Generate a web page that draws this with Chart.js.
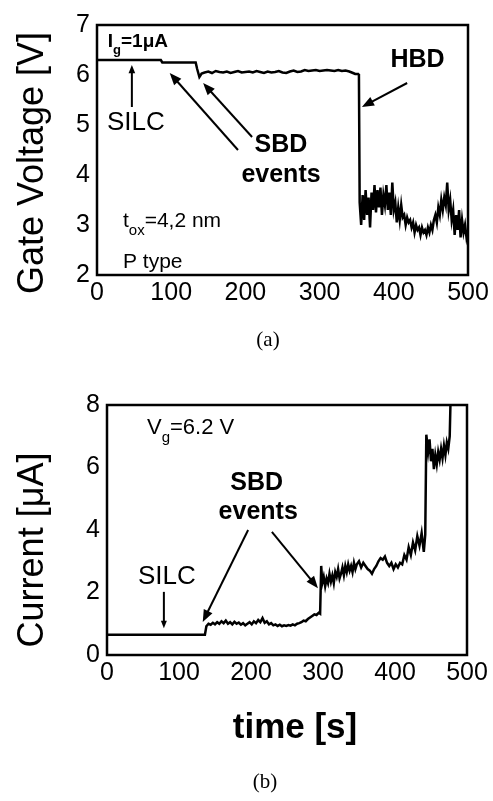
<!DOCTYPE html>
<html>
<head>
<meta charset="utf-8">
<script src="https://cdn.jsdelivr.net/npm/chart.js@4.4.0/dist/chart.umd.min.js"></script>
<style>
  html, body { margin: 0; padding: 0; background: #fff; }
  body { width: 493px; height: 801px; position: relative; overflow: hidden; }
  .box { position: absolute; left: 0; width: 493px; }
  #boxA { top: 0; height: 330px; }
  #boxB { top: 380px; height: 400px; }
  .cap { position: absolute; width: 60px; text-align: center; font-family: "Liberation Serif", serif; font-size: 21px; color: #000; }
</style>
</head>
<body>
<div class="box" id="boxA"><canvas id="gateVoltage"></canvas></div>
<div class="box" id="boxB"><canvas id="stressCurrent"></canvas></div>
<div class="cap" style="left:238px; top:327px">(a)</div>
<div class="cap" style="left:235px; top:769px">(b)</div>
<script>
// (a) constant current stress, Ig = 1 uA
const timeA = [0, 86, 88, 133, 135, 138, 141, 145, 150, 155, 160, 165, 170, 175, 180, 185, 190, 195, 200,
  205, 210, 215, 220, 225, 230, 235, 240, 245, 250, 255, 260, 265, 270, 275, 280, 285, 290, 295, 300,
  305, 310, 315, 320, 325, 330, 335, 340, 345, 348, 352, 353,
  354, 356, 358, 360, 362, 364, 366, 368, 370, 372, 374, 376, 378, 380, 382, 384, 386, 388, 390, 392,
  394, 396, 398, 400, 402, 404, 406, 408, 410, 412, 414, 416, 418, 420, 422, 424, 426, 428, 430, 432,
  434, 436, 438, 440, 442, 444, 446, 448, 450, 452, 454, 456, 458, 460, 462, 464, 466, 468, 470, 472,
  474, 476, 478, 480, 482, 484, 486, 488, 490, 492, 494, 496, 498, 500];
const gateV = [6.30, 6.30, 6.25, 6.25, 6.12, 5.96, 6.03, 6.05, 6.07, 6.04, 6.08, 6.06, 6.05, 6.07, 6.04, 6.06, 6.08, 6.05, 6.06,
  6.07, 6.05, 6.08, 6.06, 6.04, 6.07, 6.05, 6.06, 6.08, 6.05, 6.04, 6.07, 6.09, 6.06, 6.07, 6.10, 6.08, 6.09, 6.10, 6.08,
  6.09, 6.10, 6.09, 6.08, 6.10, 6.08, 6.09, 6.07, 6.04, 6.02, 6.02, 6.00,
  3.45, 3.00, 3.60, 3.10, 3.70, 3.20, 3.55, 2.95, 3.65, 3.30, 3.80, 3.25, 3.70, 3.35, 3.75, 3.20, 3.60, 3.40, 3.80, 3.30,
  3.65, 3.20, 3.85, 3.30, 3.45, 3.05, 3.35, 3.10, 3.40, 3.15, 3.20, 3.00, 3.15, 3.05, 3.10, 2.95, 3.05, 2.85, 3.00, 2.90,
  2.95, 2.80, 2.95, 2.85, 2.90, 2.80, 2.95, 2.85, 3.00, 2.90, 3.10, 3.20, 3.05, 3.35, 3.20, 3.50, 3.30, 3.55, 3.40, 3.85,
  3.30, 3.50, 3.10, 3.30, 2.80, 3.20, 2.90, 3.30, 2.75, 3.10, 2.85, 3.00, 2.75, 2.90];

// (b) constant voltage stress, Vg = 6.2 V
const timeB = [0, 136, 138, 141, 144, 147, 150, 153, 156, 159, 162, 165, 168, 171, 174, 177, 180, 183, 186, 189,
  192, 195, 198, 201, 204, 207, 210, 213, 216, 219, 222, 225, 228, 231, 234, 237, 240, 243, 246, 249,
  252, 255, 258, 261, 264, 267, 270, 273, 276, 279, 282, 285, 288, 291, 294, 296, 297.5, 299,
  301, 303, 305, 307, 309, 311, 313, 315, 317, 319, 321, 323, 325, 327, 329, 331, 333, 335, 337, 339,
  341, 343, 345, 347, 350, 353, 356, 359, 362, 365, 368, 371, 374, 377, 380, 383, 386, 389, 392, 395,
  398, 401, 404, 407, 410, 413, 416, 419, 422, 425, 428, 431, 434, 437, 440, 442, 443.5,
  446, 448, 450, 452, 454, 456, 458, 460, 462, 464, 466, 468, 470, 472, 474, 476, 477];
const currentB = [0.65, 0.65, 0.92, 1.00, 0.97, 1.03, 0.98, 1.05, 1.00, 1.08, 1.02, 1.10, 1.00, 1.05, 0.98, 1.06, 1.00, 1.04, 0.97, 1.02,
  0.95, 1.00, 1.05, 0.98, 1.08, 1.02, 1.12, 1.05, 1.18, 1.03, 1.08, 0.98, 1.02, 0.95, 0.98, 0.93, 0.97, 0.92, 0.95, 0.93,
  0.96, 0.94, 0.98, 0.95, 1.00, 1.02, 1.05, 1.10, 1.08, 1.15, 1.20, 1.25, 1.30, 1.28, 1.35, 1.32, 2.85, 2.30,
  2.50, 2.20, 2.45, 2.30, 2.60, 2.35, 2.55, 2.30, 2.65, 2.50, 2.75, 2.45, 2.60, 2.80, 2.55, 2.85, 2.65, 2.90, 2.70, 2.85,
  2.65, 2.95, 2.75, 2.90, 3.00, 2.80, 2.95, 2.85, 2.75, 2.70, 2.60, 2.75, 2.85, 3.00, 3.10, 3.05, 3.15, 2.95, 2.85, 2.95,
  2.75, 2.90, 2.80, 2.95, 2.90, 3.20, 3.05, 3.45, 3.20, 3.60, 3.35, 3.80, 3.50, 3.90, 3.30, 3.85, 7.05,
  6.50, 6.90, 6.20, 6.60, 5.95, 6.40, 6.10, 6.50, 6.25, 6.60, 6.30, 6.70, 6.40, 6.80, 6.60, 7.00, 8.00];

const ticksA = [2, 3, 4, 5, 6, 7];
const ticksB = [0, 2, 4, 6, 8];
const ticksT = [0, 100, 200, 300, 400, 500];

const SANS = '"Liberation Sans", Arial, sans-serif';

// text with subscripts, parts = [[text, isSub], ...]
function drawRich(ctx, parts, px, py, size, weight) {
  let cx = px;
  parts.forEach(([t, sub]) => {
    const fs = sub ? Math.round(size * 0.7) : size;
    ctx.font = `${weight} ${fs}px ${SANS}`;
    ctx.fillText(t, cx, sub ? py + size * 0.45 : py);
    cx += ctx.measureText(t).width;
  });
}

function arrow(ctx, x0, y0, x1, y1, head) {
  const ang = Math.atan2(y1 - y0, x1 - x0);
  ctx.beginPath();
  ctx.moveTo(x0, y0);
  ctx.lineTo(x1 - Math.cos(ang) * head * 0.8, y1 - Math.sin(ang) * head * 0.8);
  ctx.stroke();
  ctx.beginPath();
  ctx.moveTo(x1, y1);
  ctx.lineTo(x1 - head * Math.cos(ang - 0.38), y1 - head * Math.sin(ang - 0.38));
  ctx.lineTo(x1 - head * Math.cos(ang + 0.38), y1 - head * Math.sin(ang + 0.38));
  ctx.closePath();
  ctx.fill();
}

// box frame, axis titles and annotations
const decor = {
  id: 'decor',
  afterDraw(chart, args, opts) {
    const { ctx, chartArea: a, scales: { x, y } } = chart;
    ctx.save();
    ctx.strokeStyle = '#000';
    ctx.fillStyle = '#000';
    ctx.lineWidth = 2.5;
    ctx.strokeRect(a.left, a.top, a.right - a.left, a.bottom - a.top);

    ctx.textBaseline = 'middle';
    if (opts.yTitle) {
      ctx.save();
      ctx.translate(opts.yTitle.x, (a.top + a.bottom) / 2 + opts.yTitle.dy);
      ctx.rotate(-Math.PI / 2);
      ctx.textAlign = 'center';
      ctx.font = opts.yTitle.font;
      ctx.fillText(opts.yTitle.text, 0, 0);
      ctx.restore();
    }
    if (opts.xTitle) {
      ctx.textAlign = 'center';
      ctx.font = opts.xTitle.font;
      ctx.fillText(opts.xTitle.text, (a.left + a.right) / 2 + opts.xTitle.dx, a.bottom + opts.xTitle.dy);
    }

    (opts.notes || []).forEach(n => {
      ctx.textAlign = n.align || 'left';
      const px = x.getPixelForValue(n.x), py = y.getPixelForValue(n.y);
      if (n.parts) {
        drawRich(ctx, n.parts, px, py, n.size, n.weight || 'normal');
      } else {
        ctx.font = `${n.weight || 'normal'} ${n.size}px ${SANS}`;
        ctx.fillText(n.text, px, py);
      }
    });

    ctx.lineWidth = 2;
    (opts.arrows || []).forEach(r => {
      arrow(ctx, x.getPixelForValue(r.from[0]), y.getPixelForValue(r.from[1]),
        x.getPixelForValue(r.to[0]), y.getPixelForValue(r.to[1]), r.head || 13);
    });
    ctx.restore();
  }
};

function makeChart(id, xs, ys, yTicks, axisWidth, axisHeight, pad, decorOpts) {
  return new Chart(document.getElementById(id), {
    type: 'line',
    data: {
      datasets: [{
        data: xs.map((t, i) => ({ x: t, y: ys[i] })),
        borderColor: '#000',
        borderWidth: 2.5,
        pointRadius: 0,
        tension: 0
      }]
    },
    options: {
      responsive: true,
      maintainAspectRatio: false,
      animation: false,
      layout: { padding: pad },
      plugins: { legend: { display: false }, tooltip: { enabled: false }, decor: decorOpts },
      scales: {
        x: {
          type: 'linear',
          min: ticksT[0],
          max: ticksT[ticksT.length - 1],
          afterBuildTicks: s => { s.ticks = ticksT.map(v => ({ value: v })); },
          ticks: { color: '#000', font: { family: SANS, size: 25 }, padding: 3 },
          grid: { display: false, drawTicks: false },
          border: { display: false },
          afterFit: s => { s.height = axisHeight; }
        },
        y: {
          min: yTicks[0],
          max: yTicks[yTicks.length - 1],
          afterBuildTicks: s => { s.ticks = yTicks.map(v => ({ value: v })); },
          ticks: { color: '#000', font: { family: SANS, size: 25 }, padding: 7 },
          grid: { display: false, drawTicks: false },
          border: { display: false },
          afterFit: s => { s.width = axisWidth; }
        }
      }
    },
    plugins: [decor]
  });
}

const gateChart = makeChart('gateVoltage', timeA, gateV, ticksA, 97, 55,
  { top: 25, right: 25, left: 0, bottom: 0 }, {
    yTitle: { text: 'Gate Voltage [V]', x: 33, dy: 13, font: `36px ${SANS}` },
    notes: [
      { parts: [['I', false], ['g', true], ['=1μA', false]], x: 14.5, y: 6.66, size: 19, weight: 'bold' },
      { text: 'SILC', x: 13.5, y: 5.04, size: 26 },
      { text: 'SBD', x: 248, y: 4.6, size: 25, weight: 'bold', align: 'center' },
      { text: 'events', x: 248, y: 4.0, size: 25, weight: 'bold', align: 'center' },
      { text: 'HBD', x: 432, y: 6.3, size: 25, weight: 'bold', align: 'center' },
      { parts: [['t', false], ['ox', true], ['=4,2 nm', false]], x: 35, y: 3.08, size: 21 },
      { text: 'P type', x: 35, y: 2.26, size: 21 }
    ],
    arrows: [
      { from: [47, 5.36], to: [47, 6.2], head: 9 },
      { from: [190, 4.5], to: [98, 6.04] },
      { from: [209, 4.76], to: [143, 5.84] },
      { from: [418, 5.84], to: [357, 5.36] }
    ]
  });

const currentChart = makeChart('stressCurrent', timeB, currentB, ticksB, 107, 125,
  { top: 25, right: 26, left: 0, bottom: 0 }, {
    yTitle: { text: 'Current [μA]', x: 33, dy: 20, font: `36px ${SANS}` },
    xTitle: { text: 'time [s]', dx: 8, dy: 73, font: `bold 35px ${SANS}` },
    notes: [
      { parts: [['V', false], ['g', true], ['=6.2 V', false]], x: 55.5, y: 7.26, size: 22 },
      { text: 'SILC', x: 43, y: 2.5, size: 26 },
      { text: 'SBD', x: 208, y: 5.5, size: 25, weight: 'bold', align: 'center' },
      { text: 'events', x: 210, y: 4.58, size: 25, weight: 'bold', align: 'center' }
    ],
    arrows: [
      { from: [79, 2.02], to: [79, 0.86], head: 8 },
      { from: [196, 4.0], to: [133, 1.06] },
      { from: [229, 3.94], to: [293, 2.14] }
    ]
  });
</script>
</body>
</html>
